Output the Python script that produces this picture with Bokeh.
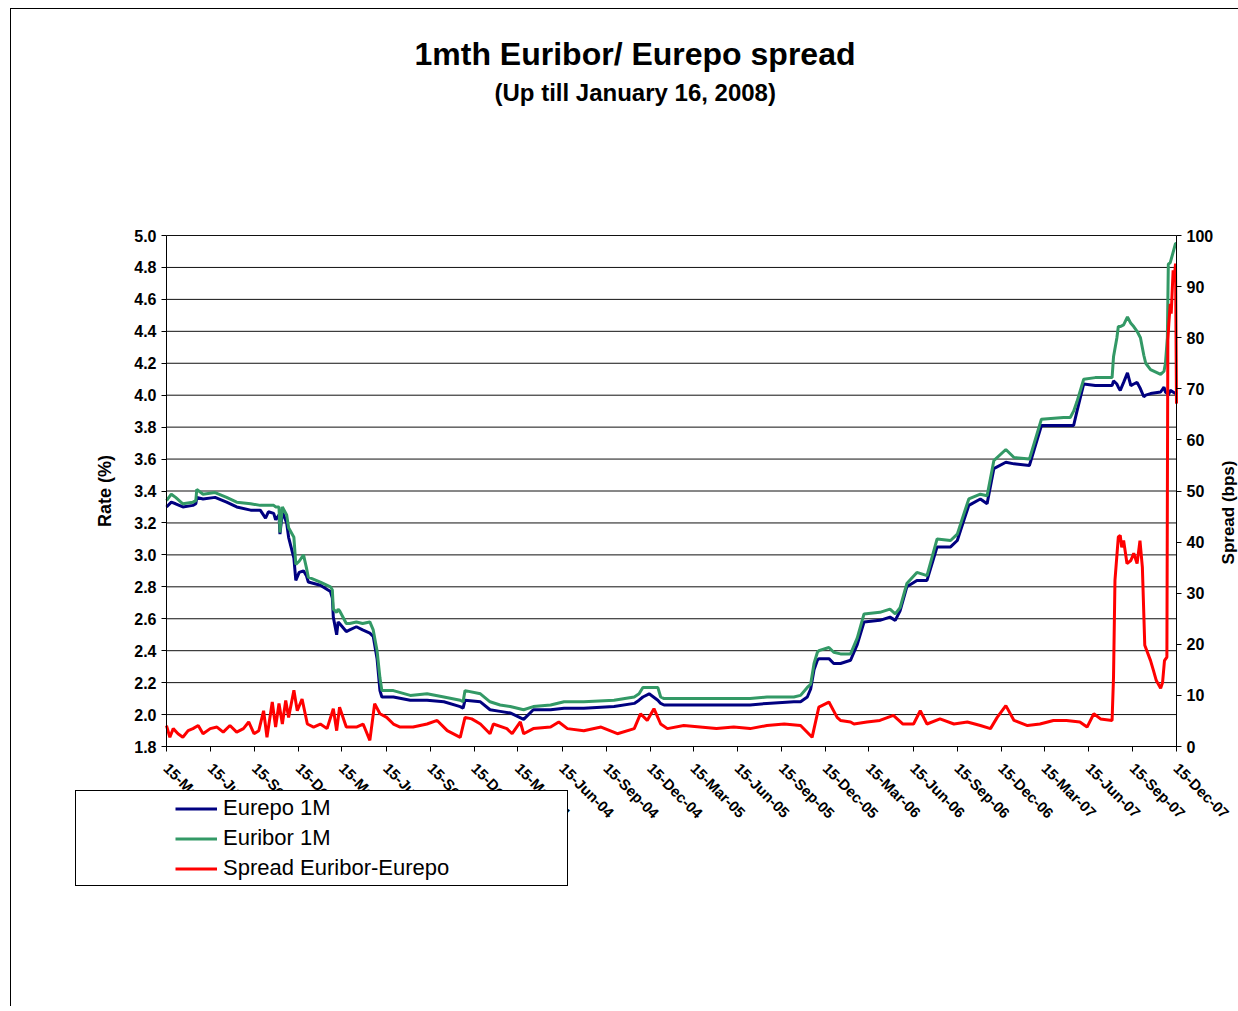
import math
import pandas as pd
from bokeh.plotting import figure
from bokeh.models import (Range1d, LinearAxis, FixedTicker, DatetimeTickFormatter,
                          PrintfTickFormatter, Title, Legend, LegendItem, Label)
from bokeh.embed import file_html
from bokeh.resources import INLINE

chart_title = "1mth Euribor/ Eurepo spread"
chart_subtitle = "(Up till January 16, 2008)"
left_axis_title = "Rate (%)"
right_axis_title = "Spread (bps)"
series_names = ["Eurepo 1M", "Euribor 1M", "Spread Euribor-Eurepo"]

rate_dates = [
    "2002-03-15", "2002-03-25", "2002-04-03", "2002-04-18", "2002-05-09", "2002-05-15", "2002-05-17", "2002-05-30", "2002-06-24", "2002-07-18",
    "2002-08-08", "2002-09-06", "2002-09-26", "2002-10-07", "2002-10-13", "2002-10-24", "2002-10-28", "2002-11-04", "2002-11-06", "2002-11-11",
    "2002-11-20", "2002-11-24", "2002-12-05", "2002-12-09", "2002-12-16", "2002-12-25", "2002-12-31", "2003-01-04", "2003-01-29", "2003-02-19",
    "2003-02-23", "2003-02-25", "2003-03-04", "2003-03-07", "2003-03-10", "2003-03-24", "2003-03-31", "2003-04-14", "2003-04-27", "2003-05-12",
    "2003-05-19", "2003-05-27", "2003-06-02", "2003-06-06", "2003-06-30", "2003-08-04", "2003-09-08", "2003-10-13", "2003-11-16", "2003-11-22",
    "2003-11-26", "2003-12-28", "2004-01-17", "2004-02-07", "2004-02-28", "2004-03-27", "2004-04-16", "2004-05-22", "2004-06-19", "2004-07-30",
    "2004-10-01", "2004-11-12", "2004-11-22", "2004-11-30", "2004-12-13", "2004-12-31", "2005-01-06", "2005-01-13", "2005-03-29", "2005-07-11",
    "2005-08-15", "2005-10-10", "2005-10-24", "2005-11-07", "2005-11-14", "2005-11-21", "2005-11-28", "2005-12-01", "2005-12-22", "2006-01-01",
    "2006-01-15", "2006-02-05", "2006-02-19", "2006-03-05", "2006-04-07", "2006-04-28", "2006-05-09", "2006-05-19", "2006-06-02", "2006-06-23",
    "2006-07-14", "2006-08-04", "2006-09-01", "2006-09-15", "2006-09-29", "2006-10-09", "2006-11-02", "2006-11-16", "2006-11-30", "2006-12-25",
    "2007-01-11", "2007-02-12", "2007-02-22", "2007-03-09", "2007-04-24", "2007-05-08", "2007-05-15", "2007-05-22", "2007-06-05", "2007-06-29",
    "2007-08-03", "2007-08-06", "2007-08-13", "2007-08-16", "2007-08-20", "2007-08-27", "2007-09-04", "2007-09-11", "2007-09-17", "2007-09-24",
    "2007-10-01", "2007-10-08", "2007-10-12", "2007-10-22", "2007-11-12", "2007-11-19", "2007-11-22", "2007-11-26", "2007-11-28", "2007-12-02",
    "2007-12-13", "2007-12-15",
]

euribor_1m = [
    3.34, 3.38, 3.36, 3.32, 3.33, 3.34, 3.41, 3.38, 3.39, 3.36,
    3.33, 3.32, 3.31, 3.31, 3.31, 3.31, 3.30, 3.30, 3.14, 3.30,
    3.25, 3.17, 3.11, 2.94, 2.96, 3.00, 2.92, 2.86, 2.83, 2.80,
    2.78, 2.66, 2.64, 2.66, 2.65, 2.57, 2.57, 2.58, 2.57, 2.58,
    2.53, 2.40, 2.23, 2.15, 2.15, 2.12, 2.13, 2.11, 2.09, 2.08,
    2.15, 2.13, 2.08, 2.06, 2.05, 2.03, 2.05, 2.06, 2.08, 2.08,
    2.09, 2.11, 2.13, 2.17, 2.17, 2.17, 2.11, 2.10, 2.10, 2.10,
    2.11, 2.11, 2.12, 2.17, 2.19, 2.32, 2.39, 2.40, 2.42, 2.39,
    2.38, 2.38, 2.48, 2.63, 2.64, 2.66, 2.63, 2.67, 2.82, 2.89,
    2.87, 3.10, 3.09, 3.13, 3.26, 3.35, 3.38, 3.37, 3.59, 3.66,
    3.61, 3.60, 3.70, 3.85, 3.86, 3.86, 3.90, 3.96, 4.10, 4.11,
    4.11, 4.24, 4.36, 4.43, 4.43, 4.44, 4.49, 4.45, 4.43, 4.40,
    4.36, 4.25, 4.20, 4.16, 4.13, 4.15, 4.20, 4.36, 4.82, 4.83,
    4.95, 4.95,
]

eurepo_1m = [
    3.30, 3.33, 3.32, 3.30, 3.31, 3.32, 3.36, 3.35, 3.36, 3.33,
    3.30, 3.28, 3.28, 3.23, 3.27, 3.26, 3.22, 3.25, 3.13, 3.27,
    3.20, 3.11, 2.98, 2.84, 2.89, 2.90, 2.87, 2.83, 2.81, 2.77,
    2.73, 2.61, 2.50, 2.58, 2.57, 2.52, 2.53, 2.55, 2.53, 2.51,
    2.49, 2.35, 2.15, 2.11, 2.11, 2.09, 2.09, 2.08, 2.05, 2.04,
    2.09, 2.08, 2.03, 2.02, 2.01, 1.97, 2.03, 2.03, 2.04, 2.04,
    2.05, 2.07, 2.09, 2.11, 2.13, 2.09, 2.07, 2.06, 2.06, 2.06,
    2.07, 2.08, 2.08, 2.11, 2.16, 2.28, 2.34, 2.35, 2.35, 2.32,
    2.32, 2.34, 2.44, 2.58, 2.59, 2.61, 2.59, 2.65, 2.80, 2.84,
    2.84, 3.05, 3.05, 3.09, 3.22, 3.31, 3.35, 3.32, 3.54, 3.58,
    3.57, 3.56, 3.66, 3.81, 3.81, 3.81, 3.81, 3.90, 4.07, 4.06,
    4.06, 4.09, 4.07, 4.05, 4.03, 4.08, 4.14, 4.06, 4.07, 4.08,
    4.04, 3.99, 4.00, 4.01, 4.02, 4.05, 4.02, 4.01, 4.00, 4.03,
    4.01, 4.02,
]

spread_dates = [
    "2002-03-15", "2002-03-22", "2002-03-29", "2002-04-08", "2002-04-18", "2002-04-29", "2002-05-09", "2002-05-20", "2002-05-30", "2002-06-14",
    "2002-06-28", "2002-07-11", "2002-07-25", "2002-08-08", "2002-08-22", "2002-09-02", "2002-09-13", "2002-09-23", "2002-10-03", "2002-10-10",
    "2002-10-21", "2002-10-28", "2002-11-04", "2002-11-11", "2002-11-18", "2002-11-24", "2002-12-05", "2002-12-12", "2002-12-22", "2003-01-02",
    "2003-01-15", "2003-01-29", "2003-02-12", "2003-02-25", "2003-03-04", "2003-03-10", "2003-03-24", "2003-04-14", "2003-04-28", "2003-05-12",
    "2003-05-22", "2003-06-02", "2003-06-16", "2003-06-30", "2003-07-14", "2003-08-10", "2003-09-08", "2003-09-29", "2003-10-20", "2003-11-16",
    "2003-11-26", "2003-12-10", "2003-12-28", "2004-01-17", "2004-01-24", "2004-02-21", "2004-03-03", "2004-03-20", "2004-03-27", "2004-04-16",
    "2004-05-22", "2004-06-08", "2004-06-26", "2004-07-30", "2004-09-04", "2004-10-08", "2004-11-12", "2004-11-25", "2004-12-09", "2004-12-23",
    "2005-01-06", "2005-01-20", "2005-02-23", "2005-03-29", "2005-05-02", "2005-06-07", "2005-07-11", "2005-08-15", "2005-09-20", "2005-10-24",
    "2005-11-17", "2005-12-01", "2005-12-22", "2006-01-08", "2006-01-15", "2006-02-05", "2006-02-12", "2006-03-11", "2006-04-07", "2006-05-05",
    "2006-05-25", "2006-06-16", "2006-06-30", "2006-07-14", "2006-08-10", "2006-09-08", "2006-10-06", "2006-11-02", "2006-11-23", "2006-12-07",
    "2006-12-25", "2007-01-11", "2007-02-08", "2007-03-06", "2007-04-03", "2007-04-30", "2007-05-28", "2007-06-12", "2007-06-26", "2007-07-10",
    "2007-08-03", "2007-08-06", "2007-08-09", "2007-08-16", "2007-08-20", "2007-08-23", "2007-08-27", "2007-09-03", "2007-09-11", "2007-09-17",
    "2007-09-24", "2007-09-30", "2007-10-05", "2007-10-10", "2007-10-22", "2007-10-28", "2007-11-03", "2007-11-12", "2007-11-16", "2007-11-20",
    "2007-11-25", "2007-11-27", "2007-11-29", "2007-12-02", "2007-12-04", "2007-12-08", "2007-12-10", "2007-12-13", "2007-12-15",
]

spread_bps = [
    4.1, 1.8, 3.5, 2.5, 1.8, 3.1, 3.5, 4.1, 2.5, 3.5,
    3.8, 2.8, 4.1, 2.8, 3.5, 4.8, 2.5, 3.1, 7.0, 1.8,
    8.7, 3.8, 8.4, 4.4, 9.0, 5.7, 11.0, 7.0, 9.3, 4.4,
    3.8, 4.4, 3.5, 7.4, 3.1, 7.7, 3.8, 3.8, 4.4, 1.2,
    8.4, 6.4, 5.7, 4.4, 3.8, 3.8, 4.4, 5.1, 3.1, 1.8,
    5.7, 5.4, 4.4, 2.5, 4.4, 3.5, 2.5, 4.8, 2.5, 3.5,
    3.8, 4.8, 3.5, 3.1, 3.8, 2.5, 3.5, 6.4, 5.1, 7.4,
    4.4, 3.5, 4.1, 3.8, 3.5, 3.8, 3.5, 4.1, 4.4, 4.1,
    1.8, 7.7, 8.7, 5.7, 5.1, 4.8, 4.4, 4.8, 5.1, 6.1,
    4.4, 4.4, 7.0, 4.4, 5.4, 4.4, 4.8, 4.1, 3.5, 5.7,
    8.0, 5.1, 4.1, 4.4, 5.1, 5.1, 4.8, 3.8, 6.4, 5.4,
    5.1, 13.6, 32.5, 41.0, 41.3, 39.0, 40.3, 35.8, 36.4, 37.8,
    35.8, 40.3, 35.1, 19.8, 16.8, 14.9, 12.9, 11.4, 12.5, 16.8,
    17.5, 79.5, 82.7, 86.6, 84.7, 93.2, 91.2, 94.5, 67.1,
]

x_tick_dates = [
    "2002-03-15", "2002-06-15", "2002-09-15", "2002-12-15",
    "2003-03-15", "2003-06-15", "2003-09-15", "2003-12-15",
    "2004-03-15", "2004-06-15", "2004-09-15", "2004-12-15",
    "2005-03-15", "2005-06-15", "2005-09-15", "2005-12-15",
    "2006-03-15", "2006-06-15", "2006-09-15", "2006-12-15",
    "2007-03-15", "2007-06-15", "2007-09-15", "2007-12-15",
]
rate_ticks = [1.8, 2.0, 2.2, 2.4, 2.6, 2.8, 3.0, 3.2, 3.4, 3.6, 3.8, 4.0, 4.2, 4.4, 4.6, 4.8, 5.0]
spread_ticks = [0, 10, 20, 30, 40, 50, 60, 70, 80, 90, 100]

assert len(rate_dates) == len(euribor_1m) == len(eurepo_1m)
assert len(spread_dates) == len(spread_bps)

FONT = "Liberation Sans"
NAVY = "#000080"
GREEN = "#339966"
RED = "#FF0000"

rd = pd.to_datetime(rate_dates)
sd = pd.to_datetime(spread_dates)
td = pd.to_datetime(x_tick_dates)
tick_ms = [t.value // 10**6 for t in td]
x0_ms, x1_ms = tick_ms[0], tick_ms[-1]

# ---- geometry (pixels) ----
AXES_LEFT, AXES_TOP = 166, 235        # the visible axes box inside the 1238 x 1011 window
PLOT_W, PLOT_H = 1010, 511
EXTRA_LEFT = 96                       # frame extends beyond the axes box so that
EXTRA_RIGHT = 62                      # tick labels and the legend are not clipped
EXTRA_TOP = 12
EXTRA_BOTTOM = 174
FRAME_W = PLOT_W + EXTRA_LEFT + EXTRA_RIGHT
FRAME_H = PLOT_H + EXTRA_TOP + EXTRA_BOTTOM

ms_per_px = (x1_ms - x0_ms) / PLOT_W
rate_per_px = (rate_ticks[-1] - rate_ticks[0]) / PLOT_H
spread_per_px = (spread_ticks[-1] - spread_ticks[0]) / PLOT_H

p = figure(
    x_range=Range1d(x0_ms - EXTRA_LEFT * ms_per_px, x1_ms + EXTRA_RIGHT * ms_per_px),
    y_range=Range1d(rate_ticks[0] - EXTRA_BOTTOM * rate_per_px, rate_ticks[-1] + EXTRA_TOP * rate_per_px),
    x_axis_type="datetime",
    frame_width=FRAME_W, frame_height=FRAME_H,
    min_border_left=AXES_LEFT - EXTRA_LEFT, min_border_right=0,
    min_border_top=AXES_TOP - EXTRA_TOP, min_border_bottom=86,
    output_backend="svg", toolbar_location=None,
    background_fill_color="white", border_fill_color="white",
)
p.border_fill_alpha = 0.0
p.background_fill_alpha = 0.0
p.styles = {
    "background": "linear-gradient(#000, #000) 10px 8px / 1px 100% no-repeat, "
                  "linear-gradient(#000, #000) 10px 8px / 100% 1px no-repeat, #ffffff",
}
p.outline_line_color = None
p.xgrid.visible = False
p.ygrid.visible = False

p.extra_y_ranges = {"spread": Range1d(spread_ticks[0] - EXTRA_BOTTOM * spread_per_px,
                                      spread_ticks[-1] + EXTRA_TOP * spread_per_px)}

# horizontal grid lines at each rate tick, spanning the axes box only
p.segment(x0=[x0_ms] * len(rate_ticks), x1=[x1_ms] * len(rate_ticks),
          y0=rate_ticks, y1=rate_ticks, line_color="#111111", line_width=1)

# left axis (fixed at the first date)
yax = p.yaxis[0]
yax.ticker = FixedTicker(ticks=rate_ticks)
yax.formatter = PrintfTickFormatter(format="%.1f")
yax.axis_label = left_axis_title
yax.fixed_location = x0_ms
yax.bounds = (rate_ticks[0], rate_ticks[-1])

# right axis (fixed at the last date)
rax = LinearAxis(y_range_name="spread", ticker=FixedTicker(ticks=spread_ticks))
rax.bounds = (spread_ticks[0], spread_ticks[-1])
rax.fixed_location = x1_ms
p.add_layout(rax, "right")

# bottom axis (fixed at the lowest rate)
xax = p.xaxis[0]
xax.ticker = FixedTicker(ticks=tick_ms)
xax.formatter = DatetimeTickFormatter(days="%d-%b-%y", months="%d-%b-%y", years="%d-%b-%y")
xax.major_label_orientation = -math.pi / 4
xax.fixed_location = rate_ticks[0]
xax.bounds = (x0_ms, x1_ms)

for ax in (yax, rax, xax):
    ax.axis_line_color = "black"
    ax.axis_line_width = 1
    ax.major_tick_in = 0
    ax.major_tick_out = 5
    ax.major_tick_line_color = "black"
    ax.minor_tick_line_color = None
    ax.major_label_text_font = FONT
    ax.major_label_text_font_style = "bold"
    ax.major_label_text_font_size = "16px"
    ax.major_label_text_color = "black"
    ax.major_label_standoff = 5
    ax.axis_label_text_font = FONT
    ax.axis_label_text_font_style = "bold"
    ax.axis_label_text_font_size = "18px"
    ax.axis_label_text_color = "black"

xax.major_label_text_font_size = "15px"
xax.major_label_standoff = 14
yax.axis_label_standoff = 16

r_repo = p.line(rd, eurepo_1m, line_color=NAVY, line_width=3)
r_ibor = p.line(rd, euribor_1m, line_color=GREEN, line_width=3)
r_spr = p.line(sd, spread_bps, line_color=RED, line_width=3, y_range_name="spread")

# right axis title, reading bottom-to-top near the right window edge
# (screen units are measured from the frame's bottom-left corner)
frame_left = AXES_LEFT - EXTRA_LEFT
frame_bottom = AXES_TOP + PLOT_H + EXTRA_BOTTOM
p.add_layout(Label(x=1228 - frame_left, y=frame_bottom - 512, x_units="screen", y_units="screen",
                   text=right_axis_title, angle=math.pi / 2, text_align="center", text_baseline="middle",
                   text_font=FONT, text_font_style="bold", text_font_size="17px", text_color="black"))

# titles: stacked in the "above" panel (first added = nearest to the frame)
p.title.text = ""
spacer = Title(text=" ", text_font_size="10px", standoff=103)
sub_t = Title(text=chart_subtitle, align="left", offset=424, standoff=4, vertical_align="bottom",
              text_font=FONT, text_font_style="bold", text_font_size="24px", text_color="black")
main_t = Title(text=chart_title, align="left", offset=344, standoff=6, vertical_align="bottom",
               text_font=FONT, text_font_style="bold", text_font_size="32px", text_color="black")
p.add_layout(spacer, "above")
p.add_layout(sub_t, "above")
p.add_layout(main_t, "above")

legend = Legend(
    items=[LegendItem(label=series_names[0], renderers=[r_repo]),
           LegendItem(label=series_names[1], renderers=[r_ibor]),
           LegendItem(label=series_names[2], renderers=[r_spr])],
    location=(5, 34), padding=4, spacing=4, margin=0,
    title=" ", title_location="left", title_text_font_size="10px", title_standoff=84,
    label_height=25, glyph_height=25, glyph_width=42, label_standoff=6, label_width=340,
    label_text_font=FONT, label_text_font_size="22px", label_text_color="black",
    background_fill_color="white", background_fill_alpha=1.0,
    border_line_color="black", border_line_width=1, border_line_alpha=1.0,
)
p.add_layout(legend, "center")

open("out.html", "w").write(file_html(p, INLINE))
